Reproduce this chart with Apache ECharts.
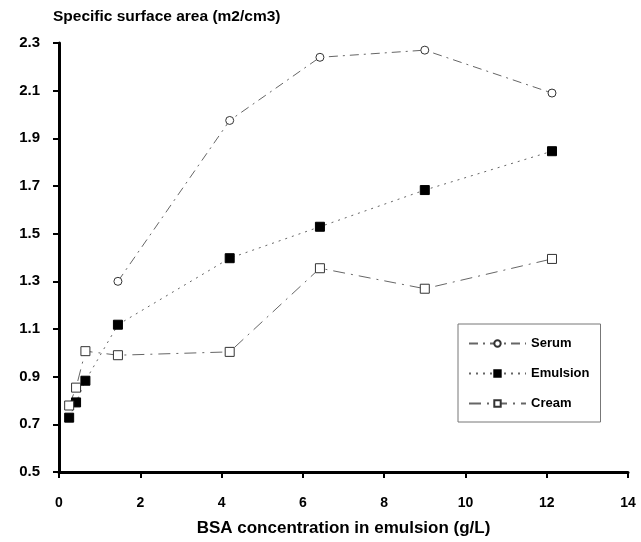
<!DOCTYPE html>
<html>
<head>
<meta charset="utf-8">
<script src="https://cdn.jsdelivr.net/npm/echarts@6/dist/echarts.min.js"></script>
<style>html,body{margin:0;padding:0;background:#fff}#c{width:641px;height:542px}</style>
</head>
<body>
<div id="c"></div>
<script>
var xLow = [0.25, 0.42, 0.65];
var xHigh = [1.45, 4.2, 6.42, 9.0, 12.13];
var serumY = [1.30, 1.975, 2.24, 2.27, 2.09];
var emulsionY = [0.728, 0.792, 0.883, 1.118, 1.397, 1.529, 1.683, 1.846];
var creamY = [0.779, 0.854, 1.007, 0.99, 1.004, 1.355, 1.269, 1.394];
var seriesNames = ['Serum', 'Emulsion', 'Cream'];
var xTitle = 'BSA concentration in emulsion (g/L)';
var yTitle = 'Specific surface area (m2/cm3)';

var xAll = xLow.concat(xHigh);
function pairs(xs, ys){ return ys.map(function(v,i){ return [xs[i], v]; }); }

var font = 'Liberation Sans, Arial, Helvetica, sans-serif';
var chart = echarts.init(document.getElementById('c'), null, {renderer:'canvas'});
chart.setOption({
  animation: false,
  backgroundColor: '#fff',
  grid: {left: 59, top: 43, right: 13, bottom: 68, containLabel: false},
  xAxis: {
    type: 'value', min: 0, max: 14, interval: 2,
    name: xTitle, nameLocation: 'middle', nameGap: 48,
    nameTextStyle: {fontFamily: font, fontWeight: 'bold', fontSize: 17, color: '#000'},
    axisLine: {lineStyle: {color: '#000', width: 3}},
    axisTick: {length: 6, lineStyle: {color: '#000', width: 2}},
    axisLabel: {fontFamily: font, fontWeight: 'bold', fontSize: 14, color: '#000', margin: 24},
    splitLine: {show: false}
  },
  yAxis: {
    type: 'value', min: 0.5, max: 2.3, interval: 0.2,
    name: yTitle, nameLocation: 'end', nameGap: 18,
    nameTextStyle: {fontFamily: font, fontWeight: 'bold', fontSize: 15.5, color: '#000', align: 'left', padding: [0,0,0,-6]},
    axisLine: {lineStyle: {color: '#000', width: 3}},
    axisTick: {length: 6, lineStyle: {color: '#000', width: 2}},
    axisLabel: {fontFamily: font, fontWeight: 'bold', fontSize: 15, color: '#000', margin: 19, align: 'right',
      formatter: function(v){ return v.toFixed(1); }},
    splitLine: {show: false}
  },
  legend: {
    left: 458, top: 324,
    orient: 'vertical',
    itemWidth: 57, itemHeight: 8, itemGap: 17,
    padding: [13, 11, 12, 10],
    borderColor: '#777', borderWidth: 1,
    textStyle: {fontFamily: font, fontWeight: 'bold', fontSize: 13, color: '#000'},
    data: seriesNames
  },
  series: [
    {name: seriesNames[0], type: 'line', data: pairs(xHigh, serumY),
     symbol: 'circle', symbolSize: 8,
     itemStyle: {color: '#fff', borderColor: '#333', borderWidth: 1},
     lineStyle: {color: '#666', width: 1, type: [9, 5, 2, 5]}},
    {name: seriesNames[1], type: 'line', data: pairs(xAll, emulsionY),
     symbol: 'rect', symbolSize: 9,
     itemStyle: {color: '#000', borderColor: '#000', borderWidth: 1},
     lineStyle: {color: '#666', width: 1, type: [2, 5]}},
    {name: seriesNames[2], type: 'line', data: pairs(xAll, creamY),
     symbol: 'rect', symbolSize: 9,
     itemStyle: {color: '#fff', borderColor: '#333', borderWidth: 1},
     lineStyle: {color: '#666', width: 1, type: [12, 6, 2, 6]}}
  ]
});
</script>
</body>
</html>
